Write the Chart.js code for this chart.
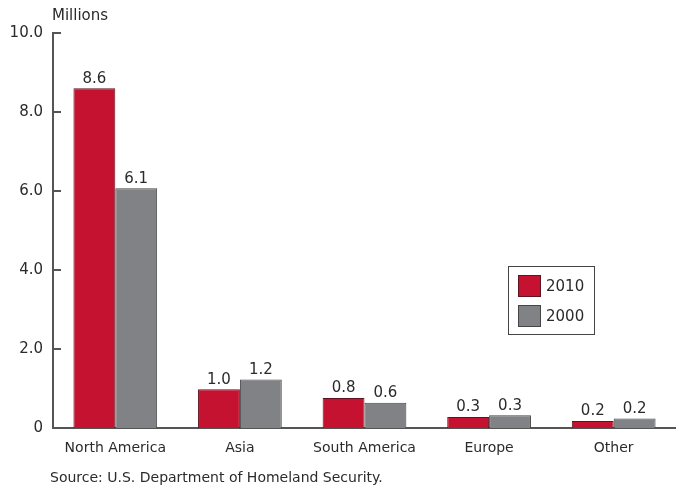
<!DOCTYPE html>
<html lang="en">
  <head>
    <meta charset="UTF-8" />
    <title>Immigrants by Region of Birth</title>
  </head>
  <style>
    * {
      margin: 0;
      padding: 0;
    }
    body {
      background: white;
    }
    .chartBox {
      width: 676px;
      height: 489px;
    }
  </style>
  <body>
    <div class="chartBox">
      <canvas id="myChart"></canvas>
    </div>

    <script src="https://cdn.jsdelivr.net/npm/chart.js"></script>

    <script>
      // data block
      const regions = ["North America", "Asia", "South America", "Europe", "Other"];
      const values2010 = [8.6, 0.98, 0.76, 0.28, 0.18];
      const values2000 = [6.07, 1.23, 0.64, 0.32, 0.24];
      const yTicks = [0, 2, 4, 6, 8, 10];

      const FONT = "'DejaVu Sans', sans-serif";
      const RED = "#c41230";
      const GRAY = "#808285";
      const AXIS = "#555555";
      const TEXT = "#2b2b2b";

      const data = {
        labels: regions,
        datasets: [
          {
            label: "2010",
            data: values2010,
            backgroundColor: RED,
            borderColor: "#5e1420",
            borderWidth: 1,
            borderSkipped: "bottom"
          },
          {
            label: "2000",
            data: values2000,
            backgroundColor: GRAY,
            borderColor: "#454545",
            borderWidth: 1,
            borderSkipped: "bottom"
          }
        ]
      };

      // labels, ticks, legend and source note
      const extras = {
        id: "extras",
        afterDatasetsDraw: (chart) => {
          const { ctx, scales: { x, y } } = chart;
          ctx.save();
          ctx.font = `15px ${FONT}`;
          ctx.fillStyle = TEXT;
          ctx.textAlign = "center";
          ctx.textBaseline = "bottom";
          chart.data.datasets.forEach((ds, i) => {
            chart.getDatasetMeta(i).data.forEach((bar, j) => {
              ctx.fillText(ds.data[j].toFixed(1), bar.x, bar.y - 2);
            });
          });

          // inward ticks
          ctx.strokeStyle = AXIS;
          ctx.lineWidth = 2;
          yTicks.forEach((t) => {
            const py = y.getPixelForValue(t);
            ctx.beginPath();
            ctx.moveTo(x.left - 1, py);
            ctx.lineTo(x.left + 8, py);
            ctx.stroke();
          });

          // unit label
          ctx.textAlign = "left";
          ctx.textBaseline = "middle";
          ctx.fillStyle = TEXT;
          ctx.font = `15px ${FONT}`;
          ctx.fillText("Millions", x.left - 1, 16);

          // legend
          const lx = 508, ly = 266, lw = 86, lh = 68;
          ctx.fillStyle = "white";
          ctx.fillRect(lx, ly, lw, lh);
          ctx.lineWidth = 1;
          ctx.strokeStyle = "#444";
          ctx.strokeRect(lx + 0.5, ly + 0.5, lw, lh);
          ctx.font = `15px ${FONT}`;
          chart.data.datasets.forEach((ds, i) => {
            const sy = ly + 9 + i * 30;
            ctx.fillStyle = ds.backgroundColor;
            ctx.fillRect(lx + 10, sy, 23, 22);
            ctx.strokeStyle = ds.borderColor;
            ctx.strokeRect(lx + 10.5, sy + 0.5, 22, 21);
            ctx.fillStyle = TEXT;
            ctx.fillText(ds.label, lx + 38, sy + 12);
          });

          // source
          ctx.font = `14px ${FONT}`;
          ctx.fillText("Source: U.S. Department of Homeland Security.", 50, 478);
          ctx.restore();
        }
      };

      // config block
      const config = {
        type: "bar",
        data,
        options: {
          responsive: true,
          maintainAspectRatio: false,
          animation: false,
          layout: {
            padding: { top: 33, right: 0, left: 0, bottom: 0 }
          },
          datasets: {
            bar: {
              barPercentage: 1,
              categoryPercentage: 0.672
            }
          },
          plugins: {
            legend: { display: false },
            tooltip: { enabled: false }
          },
          scales: {
            x: {
              grid: { display: false },
              border: { display: true, color: AXIS, width: 2 },
              ticks: {
                color: TEXT,
                padding: 4,
                font: { family: FONT, size: 14 },
                maxRotation: 0
              },
              afterFit: (scale) => {
                scale.height = 61;
              }
            },
            y: {
              min: 0,
              max: 10,
              grid: { display: false },
              border: { display: true, color: AXIS, width: 2 },
              afterBuildTicks: (scale) => {
                scale.ticks = yTicks.map((v) => ({ value: v }));
              },
              ticks: {
                color: TEXT,
                padding: 2,
                font: { family: FONT, size: 15 },
                callback: (v) => (v === 0 ? "0" : v.toFixed(1))
              },
              afterFit: (scale) => {
                scale.width = 53;
              }
            }
          }
        },
        plugins: [extras]
      };

      // init render block
      const myChart = new Chart(document.getElementById("myChart"), config);
    </script>
  </body>
</html>
